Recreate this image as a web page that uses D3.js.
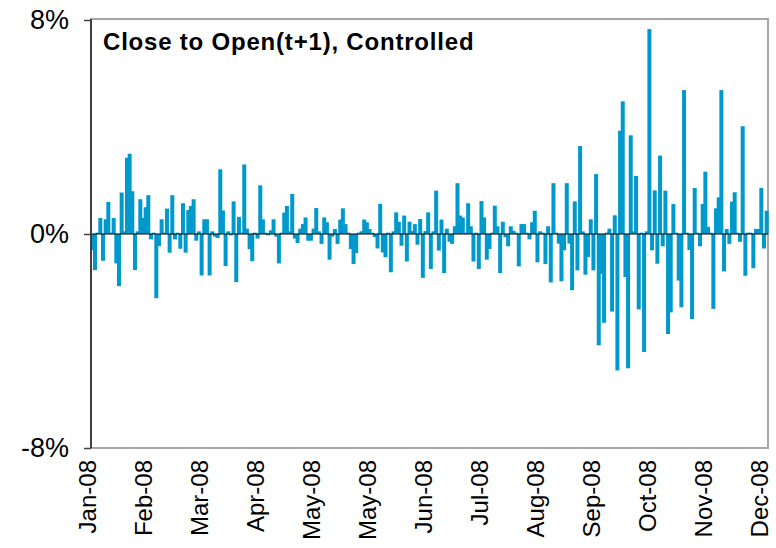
<!DOCTYPE html>
<html>
<head>
<meta charset="utf-8">
<script src="https://cdn.jsdelivr.net/npm/d3@7"></script>
<style>
  body { margin: 0; background: #fff; }
  text { font-family: Arial, "Liberation Sans", sans-serif; }
</style>
</head>
<body>
<svg width="776" height="548"></svg>
<script>
var width = 776, height = 548;

// daily close-to-open returns (%), Jan-08 .. Dec-08
var values = [
  -0.6, -1.35, 0.05, 0.6, -1.0, 0.55, 1.2, 0.05, 0.6, -1.1,
  -1.95, 1.55, 0.1, 2.85, 3.0, 1.6, -1.35, 0.1, 1.3, 0.6,
  1.0, 1.45, -0.2, 0.05, -2.4, -0.45, 0.55, 0.05, 0.95, -0.7,
  1.45, -0.2, 0.05, -0.55, 1.15, -0.7, 0.9, 1.05, 1.3, -0.25,
  0.1, -1.55, 0.55, 0.55, -1.55,
  0.1, -0.1, -0.15, 2.42, 0.88, -1.2, 0.1, -0.05, 1.22, -1.8,
  0.64, 0.05, 2.6, 0.2, -0.57, -1.02, 0.05, -0.17, 1.82, 0.55,
  0.05, -0.05, 0.14, 0.55, -0.1, -1.1, 0.05, 0.8, 1.05, 0.1,
  1.5, -0.17, -0.34, 0.2, 0.37, 0.62, -0.25, -0.25, 0.2, 0.97,
  0.1, -0.37, 0.62, 0.44, -0.96, -0.1, 0.19, -0.37, 0.54, 0.96,
  0.37, 0.05, -0.56, -1.12, -0.71, 0.05, 0.1, 0.54, 0.44, 0.19,
  0.05, -0.12, -0.54, 1.13, -0.69, -0.87, 0.05, -1.43, 0.1, 0.81,
  0.46, -0.44, 0.69, -1.03, 0.46, 0.11, 0.37, -0.4, 0.56, -1.64,
  0.11, 0.81, -1.31,
  0.1, 1.62, -0.62, 0.54, -1.46, 0.2, -0.29, -0.37, 0.29, 1.9,
  0.69, 0.62, 0.05, 1.15, 0.29, -1.03, 0.05, -1.31, 1.23, 0.62,
  -0.96, -0.56, 0.05, 1.06, 0.29, -1.46, 0.46, -0.12, -0.46, 0.29,
  0.12, 0.05, -1.21, 0.37, 0.37, 0.05, -0.2, 0.44, 0.87, -1.06,
  0.1, 0.05, -1.12, 0.29, -1.81,
  1.9, 0.05, -0.36, -1.77, -0.61, 1.9, -0.36, -2.1, 1.22, -1.36,
  3.29, 0.1, -1.52, -0.86, 0.55, -1.36, 2.24, -4.16, -1.49, -3.32,
  0.05, 0.2, -2.9, 0.7, -5.1, 3.86, 4.96, -1.61, -5.02, 3.69,
  0.1, 2.17, -2.82, 0.05, -4.41, 0.1, 7.66, -0.61, 1.63, -1.11,
  2.93, -0.46, 1.62, -3.74, -2.93, 1.12, 0.05, -1.74, -2.74, 5.38,
  0.05, -0.6, -3.18, 1.72, 0.05, -0.46, 1.12, 2.33, 0.27, 0.05,
  -2.8, 0.96, 1.37, 5.38, -1.4, 0.19, -0.37, 1.21, 1.56, 0.05,
  -0.29, 4.03, -1.56, 0.05, 0.05, -1.28, 0.19, 0.19, 1.72, -0.54,
  0.87
];

// category axis labels, one every 21 trading days
var monthLabels = ["Jan-08", "Feb-08", "Mar-08", "Apr-08", "May-08", "May-08", "Jun-08",
                   "Jul-08", "Aug-08", "Sep-08", "Oct-08", "Nov-08", "Dec-08"];
var labelEvery = 21;
var yTicks = [-8, 0, 8];

var title = "Close to Open(t+1), Controlled";

// plot area edges (note: "top" is a reserved window property, so avoid it)
var pLeft = 91, pRight = 768, pTop = 20, pBottom = 448;

var svg = d3.select("svg");

var x = d3.scaleBand()
    .domain(d3.range(values.length))
    .range([pLeft, pRight]);

var y = d3.scaleLinear()
    .domain([-8, 8])
    .range([pBottom, pTop]);

// plot area frame (grey)
svg.append("rect")
    .attr("x", pLeft)
    .attr("y", pTop - 1)
    .attr("width", pRight - pLeft)
    .attr("height", pBottom - pTop + 1)
    .attr("fill", "none")
    .attr("stroke", "#a6a6a6")
    .attr("stroke-width", 2);

// bars
var bw = 4;
svg.append("g").selectAll("rect")
    .data(values)
    .enter().append("rect")
    .attr("x", function (d, i) { return x(i) + x.bandwidth() / 2 - bw / 2; })
    .attr("y", function (d) { return y(Math.max(0, d)); })
    .attr("width", bw)
    .attr("height", function (d) { return Math.abs(y(d) - y(0)); })
    .attr("fill", "#0099cc");

// zero line
svg.append("line")
    .attr("x1", pLeft).attr("x2", pRight)
    .attr("y1", y(0)).attr("y2", y(0))
    .attr("stroke", "#000")
    .attr("stroke-width", 1);

// value axis
var yAxis = d3.axisLeft(y)
    .tickValues(yTicks)
    .tickSize(7)
    .tickPadding(15)
    .tickFormat(function (d) { return d + "%"; });

var gy = svg.append("g")
    .attr("transform", "translate(" + pLeft + ",0)")
    .call(yAxis);
gy.select(".domain").attr("stroke", "#404040").attr("stroke-width", 2)
    .attr("d", "M0," + (pTop - 1) + "V" + pBottom);
gy.selectAll(".tick line").attr("stroke", "#404040").attr("stroke-width", 1.5);
gy.selectAll(".tick text")
    .attr("font-size", 27)
    .attr("fill", "#000")
    .style("font-family", "Arial, 'Liberation Sans', sans-serif");

// category labels
svg.append("g").selectAll("text")
    .data(monthLabels)
    .enter().append("text")
    .attr("transform", function (d, i) {
        var cx = x(i * labelEvery) + x.bandwidth() / 2;
        return "translate(" + (cx + 4) + "," + (pBottom + 12) + ") rotate(-90)";
    })
    .attr("text-anchor", "end")
    .attr("font-size", 24)
    .attr("fill", "#000")
    .text(function (d) { return d; });

// chart title inside plot area
svg.append("text")
    .attr("x", 103)
    .attr("y", 50)
    .attr("font-size", 24)
    .attr("font-weight", "bold")
    .attr("letter-spacing", 0.8)
    .attr("fill", "#000")
    .text(title);
</script>
</body>
</html>
